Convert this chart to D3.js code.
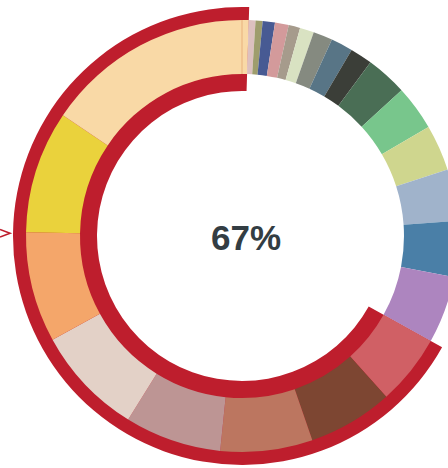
<!DOCTYPE html>
<html>
<head>
<meta charset="utf-8">
<script src="https://cdn.jsdelivr.net/npm/d3@7"></script>
<style>
  html, body { margin: 0; padding: 0; background: #ffffff; overflow: hidden; }
  svg { display: block; }
</style>
</head>
<body>
<svg id="chart" width="448" height="468"></svg>
<script>
// ---- data (clockwise from 12 o'clock) ----
const categories = ["A","B","C","D","E","F","G","H","I","J","K","L","M","N","O","P","Q","R","S","T","U","V","W","X"];
const values = [1.8, 1.8, 1.9, 3.3, 3.7, 3.1, 3.8, 5.2, 5.9, 6.0, 11.1, 12.1, 12.4, 13.9, 15.0, 18.1, 19.0, 22.9, 24.8, 26.0, 29.5, 29.7, 33.0, 56.0];
const colors = ["#f9d9a6","#dcc0bf","#9e9d6d","#475a93","#d39a9b","#a69b8c","#d9e2c2","#858a80","#587586","#3b3e38",
                "#4a6e55","#78c68c","#cfd68e","#a0b3cb","#4a7fa7","#ad85bf","#d06065","#7d4632","#bc7660","#bd9594",
                "#e3d1c7","#f4a66a","#ead23c","#f9d9a6"];
const highlighted = ["A","Q","R","S","T","U","V","W","X"];

const W = 448, H = 468;
const cx = 242, cy = 236;
const R = 216, r = 162;
const red = "#be1e2d";

const svg = d3.select("#chart");
const g = svg.append("g").attr("transform", `translate(${cx},${cy})`);

const pie = d3.pie().sort(null).value(d => d).startAngle(0).endAngle(2 * Math.PI);
const arcsData = pie(values);

// highlight arc (wraps around 12 o'clock)
const hiIdx = categories.map((c, i) => highlighted.includes(c) ? i : -1).filter(i => i >= 0);
const wrapStart = hiIdx.filter(i => i > 0)[0];
const hStart = arcsData[wrapStart].startAngle;
const hEnd = arcsData[0].endAngle + 2 * Math.PI;

g.append("path")
  .attr("d", d3.arc().innerRadius(r - 17).outerRadius(R + 13).startAngle(hStart).endAngle(hEnd)())
  .attr("fill", red);

const arc = d3.arc().innerRadius(r).outerRadius(R);
g.selectAll("path.slice").data(arcsData).join("path")
  .attr("class", "slice")
  .attr("d", arc)
  .attr("fill", (d, i) => colors[i]);

// thin start line at 12 o'clock
g.append("line")
  .attr("x1", 0).attr("y1", -r).attr("x2", 0).attr("y2", -R)
  .attr("stroke", "#e8b17c").attr("stroke-width", 1);

// center label
const hiSum = d3.sum(hiIdx, i => values[i]);
const pct = Math.round(hiSum / d3.sum(values) * 100);
g.append("text")
  .attr("x", 4).attr("y", 14)
  .attr("text-anchor", "middle")
  .attr("font-family", "'Liberation Sans', Arial, sans-serif")
  .attr("font-weight", "bold")
  .attr("font-size", 35)
  .attr("fill", "#333d43")
  .text(pct + "%");

// left marker chevron
svg.append("polyline")
  .attr("points", "0,229.5 10,233.3 0,237")
  .attr("fill", "none")
  .attr("stroke", red)
  .attr("stroke-width", 1.6);
</script>
</body>
</html>
